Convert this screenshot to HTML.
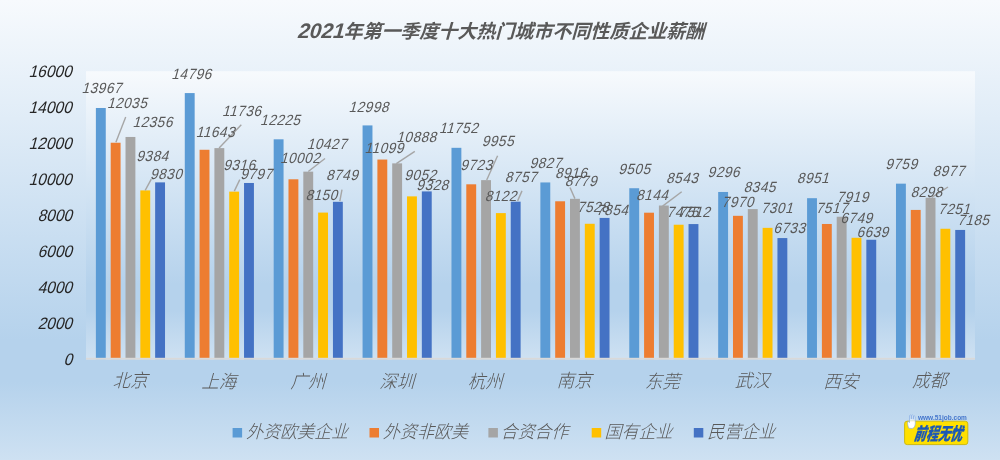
<!DOCTYPE html><html><head><meta charset="utf-8"><title>2021年第一季度十大热门城市不同性质企业薪酬</title><style>html,body{margin:0;padding:0;width:1000px;height:460px;overflow:hidden;background:#B5D2EC}svg{display:block}text{font-family:"Liberation Sans","Noto Sans CJK SC",sans-serif}</style></head><body><svg width="1000" height="460" viewBox="0 0 1000 460"><defs><linearGradient id="g" x1="0" y1="0" x2="0" y2="1"><stop offset="0" stop-color="#F7FAFD"/><stop offset="0.74" stop-color="#B5D2EC"/><stop offset="0.83" stop-color="#B5D2EC"/><stop offset="1" stop-color="#CEE1F2"/></linearGradient></defs>
<rect x="0" y="0" width="1000" height="460" fill="url(#g)"/>
<rect x="86" y="71.2" width="889" height="288.40" fill="url(#g)"/>
<rect x="95.88" y="107.99" width="9.88" height="251.16" fill="#5B9BD5"/>
<rect x="110.69" y="142.73" width="9.88" height="216.42" fill="#ED7D31"/>
<rect x="125.51" y="136.96" width="9.88" height="222.19" fill="#A5A5A5"/>
<rect x="140.33" y="190.40" width="9.88" height="168.75" fill="#FFC000"/>
<rect x="155.14" y="182.38" width="9.88" height="176.77" fill="#4472C4"/>
<rect x="184.78" y="93.08" width="9.88" height="266.07" fill="#5B9BD5"/>
<rect x="199.59" y="149.78" width="9.88" height="209.37" fill="#ED7D31"/>
<rect x="214.41" y="148.11" width="9.88" height="211.04" fill="#A5A5A5"/>
<rect x="229.23" y="191.63" width="9.88" height="167.52" fill="#FFC000"/>
<rect x="244.04" y="182.98" width="9.88" height="176.17" fill="#4472C4"/>
<rect x="273.68" y="139.31" width="9.88" height="219.84" fill="#5B9BD5"/>
<rect x="288.49" y="179.29" width="9.88" height="179.86" fill="#ED7D31"/>
<rect x="303.31" y="171.65" width="9.88" height="187.50" fill="#A5A5A5"/>
<rect x="318.13" y="212.59" width="9.88" height="146.56" fill="#FFC000"/>
<rect x="332.94" y="201.82" width="9.88" height="157.33" fill="#4472C4"/>
<rect x="362.58" y="125.41" width="9.88" height="233.74" fill="#5B9BD5"/>
<rect x="377.39" y="159.56" width="9.88" height="199.59" fill="#ED7D31"/>
<rect x="392.21" y="163.36" width="9.88" height="195.79" fill="#A5A5A5"/>
<rect x="407.03" y="196.37" width="9.88" height="162.78" fill="#FFC000"/>
<rect x="421.84" y="191.41" width="9.88" height="167.74" fill="#4472C4"/>
<rect x="451.48" y="147.82" width="9.88" height="211.33" fill="#5B9BD5"/>
<rect x="466.29" y="184.31" width="9.88" height="174.84" fill="#ED7D31"/>
<rect x="481.11" y="180.13" width="9.88" height="179.02" fill="#A5A5A5"/>
<rect x="495.93" y="213.10" width="9.88" height="146.05" fill="#FFC000"/>
<rect x="510.74" y="201.68" width="9.88" height="157.47" fill="#4472C4"/>
<rect x="540.38" y="182.44" width="9.88" height="176.71" fill="#5B9BD5"/>
<rect x="555.19" y="201.28" width="9.88" height="157.87" fill="#ED7D31"/>
<rect x="570.01" y="198.82" width="9.88" height="160.33" fill="#A5A5A5"/>
<rect x="584.83" y="223.78" width="9.88" height="135.37" fill="#FFC000"/>
<rect x="599.64" y="217.92" width="9.88" height="141.23" fill="#4472C4"/>
<rect x="629.28" y="188.23" width="9.88" height="170.92" fill="#5B9BD5"/>
<rect x="644.09" y="212.70" width="9.88" height="146.45" fill="#ED7D31"/>
<rect x="658.91" y="205.53" width="9.88" height="153.62" fill="#A5A5A5"/>
<rect x="673.73" y="224.73" width="9.88" height="134.42" fill="#FFC000"/>
<rect x="688.54" y="224.07" width="9.88" height="135.08" fill="#4472C4"/>
<rect x="718.18" y="191.98" width="9.88" height="167.17" fill="#5B9BD5"/>
<rect x="732.99" y="215.83" width="9.88" height="143.32" fill="#ED7D31"/>
<rect x="747.81" y="209.09" width="9.88" height="150.06" fill="#A5A5A5"/>
<rect x="762.63" y="227.86" width="9.88" height="131.29" fill="#FFC000"/>
<rect x="777.44" y="238.07" width="9.88" height="121.08" fill="#4472C4"/>
<rect x="807.08" y="198.19" width="9.88" height="160.96" fill="#5B9BD5"/>
<rect x="821.89" y="223.98" width="9.88" height="135.17" fill="#ED7D31"/>
<rect x="836.71" y="216.75" width="9.88" height="142.40" fill="#A5A5A5"/>
<rect x="851.53" y="237.79" width="9.88" height="121.36" fill="#FFC000"/>
<rect x="866.34" y="239.76" width="9.88" height="119.39" fill="#4472C4"/>
<rect x="895.98" y="183.66" width="9.88" height="175.49" fill="#5B9BD5"/>
<rect x="910.79" y="209.93" width="9.88" height="149.22" fill="#ED7D31"/>
<rect x="925.61" y="197.72" width="9.88" height="161.43" fill="#A5A5A5"/>
<rect x="940.43" y="228.76" width="9.88" height="130.39" fill="#FFC000"/>
<rect x="955.24" y="229.95" width="9.88" height="129.20" fill="#4472C4"/>
<rect x="86" y="357.8" width="889" height="1.8" fill="#D9D9D9"/>
<line x1="125.7" y1="117" x2="115.9" y2="142.2" stroke="#A6A6A6" stroke-width="1.4"/>
<line x1="241.3" y1="124.8" x2="219.1" y2="148" stroke="#A6A6A6" stroke-width="1.4"/>
<line x1="151.3" y1="179.1" x2="145.2" y2="190.4" stroke="#A6A6A6" stroke-width="1.4"/>
<line x1="239.8" y1="179.6" x2="234.3" y2="191.1" stroke="#A6A6A6" stroke-width="1.4"/>
<line x1="325" y1="158.5" x2="308.3" y2="171.5" stroke="#A6A6A6" stroke-width="1.4"/>
<line x1="342" y1="189.6" x2="339.8" y2="201.1" stroke="#A6A6A6" stroke-width="1.4"/>
<line x1="414.8" y1="151.3" x2="396.3" y2="163.7" stroke="#A6A6A6" stroke-width="1.4"/>
<line x1="497.6" y1="155.7" x2="486.7" y2="180" stroke="#A6A6A6" stroke-width="1.4"/>
<line x1="522" y1="190.9" x2="517.6" y2="200.9" stroke="#A6A6A6" stroke-width="1.4"/>
<line x1="570" y1="187.5" x2="574.9" y2="198.6" stroke="#A6A6A6" stroke-width="1.4"/>
<line x1="681.7" y1="191.7" x2="662.6" y2="206.1" stroke="#A6A6A6" stroke-width="1.4"/>
<line x1="948" y1="187" x2="931.7" y2="197.4" stroke="#A6A6A6" stroke-width="1.4"/>
<rect x="232.6" y="428" width="9.5" height="9.5" fill="#5B9BD5"/>
<rect x="369.5" y="428" width="9.5" height="9.5" fill="#ED7D31"/>
<rect x="488.4" y="428" width="9.5" height="9.5" fill="#A5A5A5"/>
<rect x="591.7" y="428" width="9.5" height="9.5" fill="#FFC000"/>
<rect x="693.8" y="428" width="9.5" height="9.5" fill="#4472C4"/>
<text transform="translate(81.45,93.15) skewX(-15.60) scale(1,1.09)" font-size="13.6" font-weight="400" fill="#595959" letter-spacing="0.5">13967</text>
<text transform="translate(106.90,107.50) skewX(-15.60) scale(1,1.09)" font-size="13.6" font-weight="400" fill="#595959" letter-spacing="0.5">12035</text>
<text transform="translate(132.40,126.65) skewX(-15.60) scale(1,1.09)" font-size="13.6" font-weight="400" fill="#595959" letter-spacing="0.5">12356</text>
<text transform="translate(136.30,160.80) skewX(-15.60) scale(1,1.09)" font-size="13.6" font-weight="400" fill="#595959" letter-spacing="0.5">9384</text>
<text transform="translate(150.00,179.20) skewX(-15.60) scale(1,1.09)" font-size="13.6" font-weight="400" fill="#595959" letter-spacing="0.5">9830</text>
<text transform="translate(171.30,78.80) skewX(-15.60) scale(1,1.09)" font-size="13.6" font-weight="400" fill="#595959" letter-spacing="0.5">14796</text>
<text transform="translate(195.65,136.95) skewX(-15.60) scale(1,1.09)" font-size="13.6" font-weight="400" fill="#595959" letter-spacing="0.5">11643</text>
<text transform="translate(222.00,115.70) skewX(-15.60) scale(1,1.09)" font-size="13.6" font-weight="400" fill="#595959" letter-spacing="0.5">11736</text>
<text transform="translate(223.20,170.00) skewX(-15.60) scale(1,1.09)" font-size="13.6" font-weight="400" fill="#595959" letter-spacing="0.5">9316</text>
<text transform="translate(240.25,179.20) skewX(-15.60) scale(1,1.09)" font-size="13.6" font-weight="400" fill="#595959" letter-spacing="0.5">9797</text>
<text transform="translate(260.10,125.30) skewX(-15.60) scale(1,1.09)" font-size="13.6" font-weight="400" fill="#595959" letter-spacing="0.5">12225</text>
<text transform="translate(279.90,162.80) skewX(-15.60) scale(1,1.09)" font-size="13.6" font-weight="400" fill="#595959" letter-spacing="0.5">10002</text>
<text transform="translate(306.65,149.20) skewX(-15.60) scale(1,1.09)" font-size="13.6" font-weight="400" fill="#595959" letter-spacing="0.5">10427</text>
<text transform="translate(305.40,200.10) skewX(-15.60) scale(1,1.09)" font-size="13.6" font-weight="400" fill="#595959" letter-spacing="0.5">8150</text>
<text transform="translate(326.00,179.70) skewX(-15.60) scale(1,1.09)" font-size="13.6" font-weight="400" fill="#595959" letter-spacing="0.5">8749</text>
<text transform="translate(348.45,111.55) skewX(-15.60) scale(1,1.09)" font-size="13.6" font-weight="400" fill="#595959" letter-spacing="0.5">12998</text>
<text transform="translate(364.40,153.05) skewX(-15.60) scale(1,1.09)" font-size="13.6" font-weight="400" fill="#595959" letter-spacing="0.5">11099</text>
<text transform="translate(396.30,141.85) skewX(-15.60) scale(1,1.09)" font-size="13.6" font-weight="400" fill="#595959" letter-spacing="0.5">10888</text>
<text transform="translate(404.30,179.85) skewX(-15.60) scale(1,1.09)" font-size="13.6" font-weight="400" fill="#595959" letter-spacing="0.5">9052</text>
<text transform="translate(416.35,190.10) skewX(-15.60) scale(1,1.09)" font-size="13.6" font-weight="400" fill="#595959" letter-spacing="0.5">9328</text>
<text transform="translate(438.95,132.90) skewX(-15.60) scale(1,1.09)" font-size="13.6" font-weight="400" fill="#595959" letter-spacing="0.5">11752</text>
<text transform="translate(460.20,169.90) skewX(-15.60) scale(1,1.09)" font-size="13.6" font-weight="400" fill="#595959" letter-spacing="0.5">9723</text>
<text transform="translate(481.70,146.20) skewX(-15.60) scale(1,1.09)" font-size="13.6" font-weight="400" fill="#595959" letter-spacing="0.5">9955</text>
<text transform="translate(484.65,201.20) skewX(-15.60) scale(1,1.09)" font-size="13.6" font-weight="400" fill="#595959" letter-spacing="0.5">8122</text>
<text transform="translate(504.80,181.85) skewX(-15.60) scale(1,1.09)" font-size="13.6" font-weight="400" fill="#595959" letter-spacing="0.5">8757</text>
<text transform="translate(529.50,167.70) skewX(-15.60) scale(1,1.09)" font-size="13.6" font-weight="400" fill="#595959" letter-spacing="0.5">9827</text>
<text transform="translate(555.00,178.05) skewX(-15.60) scale(1,1.09)" font-size="13.6" font-weight="400" fill="#595959" letter-spacing="0.5">8916</text>
<text transform="translate(564.70,185.70) skewX(-15.60) scale(1,1.09)" font-size="13.6" font-weight="400" fill="#595959" letter-spacing="0.5">8779</text>
<text transform="translate(576.95,211.80) skewX(-15.60) scale(1,1.09)" font-size="13.6" font-weight="400" fill="#595959" letter-spacing="0.5">7528</text>
<text transform="translate(596.05,214.50) skewX(-15.60) scale(1,1.09)" font-size="13.6" font-weight="400" fill="#595959" letter-spacing="0.5">7854</text>
<text transform="translate(618.20,173.50) skewX(-15.60) scale(1,1.09)" font-size="13.6" font-weight="400" fill="#595959" letter-spacing="0.5">9505</text>
<text transform="translate(636.05,200.10) skewX(-15.60) scale(1,1.09)" font-size="13.6" font-weight="400" fill="#595959" letter-spacing="0.5">8144</text>
<text transform="translate(666.05,182.70) skewX(-15.60) scale(1,1.09)" font-size="13.6" font-weight="400" fill="#595959" letter-spacing="0.5">8543</text>
<text transform="translate(666.60,216.85) skewX(-15.60) scale(1,1.09)" font-size="13.6" font-weight="400" fill="#595959" letter-spacing="0.5">7475</text>
<text transform="translate(678.10,216.85) skewX(-15.60) scale(1,1.09)" font-size="13.6" font-weight="400" fill="#595959" letter-spacing="0.5">7512</text>
<text transform="translate(707.60,176.85) skewX(-15.60) scale(1,1.09)" font-size="13.6" font-weight="400" fill="#595959" letter-spacing="0.5">9296</text>
<text transform="translate(721.60,206.95) skewX(-15.60) scale(1,1.09)" font-size="13.6" font-weight="400" fill="#595959" letter-spacing="0.5">7970</text>
<text transform="translate(743.55,192.10) skewX(-15.60) scale(1,1.09)" font-size="13.6" font-weight="400" fill="#595959" letter-spacing="0.5">8345</text>
<text transform="translate(760.75,213.30) skewX(-15.60) scale(1,1.09)" font-size="13.6" font-weight="400" fill="#595959" letter-spacing="0.5">7301</text>
<text transform="translate(773.25,232.80) skewX(-15.60) scale(1,1.09)" font-size="13.6" font-weight="400" fill="#595959" letter-spacing="0.5">6733</text>
<text transform="translate(796.85,183.40) skewX(-15.60) scale(1,1.09)" font-size="13.6" font-weight="400" fill="#595959" letter-spacing="0.5">8951</text>
<text transform="translate(815.70,212.70) skewX(-15.60) scale(1,1.09)" font-size="13.6" font-weight="400" fill="#595959" letter-spacing="0.5">7517</text>
<text transform="translate(836.50,202.20) skewX(-15.60) scale(1,1.09)" font-size="13.6" font-weight="400" fill="#595959" letter-spacing="0.5">7919</text>
<text transform="translate(840.30,223.05) skewX(-15.60) scale(1,1.09)" font-size="13.6" font-weight="400" fill="#595959" letter-spacing="0.5">6749</text>
<text transform="translate(856.40,236.60) skewX(-15.60) scale(1,1.09)" font-size="13.6" font-weight="400" fill="#595959" letter-spacing="0.5">6639</text>
<text transform="translate(885.20,169.10) skewX(-15.60) scale(1,1.09)" font-size="13.6" font-weight="400" fill="#595959" letter-spacing="0.5">9759</text>
<text transform="translate(910.40,197.20) skewX(-15.60) scale(1,1.09)" font-size="13.6" font-weight="400" fill="#595959" letter-spacing="0.5">8298</text>
<text transform="translate(932.50,176.20) skewX(-15.60) scale(1,1.09)" font-size="13.6" font-weight="400" fill="#595959" letter-spacing="0.5">8977</text>
<text transform="translate(938.10,214.20) skewX(-15.60) scale(1,1.09)" font-size="13.6" font-weight="400" fill="#595959" letter-spacing="0.5">7251</text>
<text transform="translate(957.15,225.10) skewX(-15.60) scale(1,1.09)" font-size="13.6" font-weight="400" fill="#595959" letter-spacing="0.5">7185</text>
<text transform="translate(63.50,364.50) skewX(-15.60) scale(1,1.07)" font-size="15.5" font-weight="400" fill="#262626">0</text>
<text transform="translate(37.50,328.54) skewX(-15.60) scale(1,1.07)" font-size="15.5" font-weight="400" fill="#262626">2000</text>
<text transform="translate(37.50,292.57) skewX(-15.60) scale(1,1.07)" font-size="15.5" font-weight="400" fill="#262626">4000</text>
<text transform="translate(37.50,256.61) skewX(-15.60) scale(1,1.07)" font-size="15.5" font-weight="400" fill="#262626">6000</text>
<text transform="translate(37.50,220.64) skewX(-15.60) scale(1,1.07)" font-size="15.5" font-weight="400" fill="#262626">8000</text>
<text transform="translate(28.50,184.68) skewX(-15.60) scale(1,1.07)" font-size="15.5" font-weight="400" fill="#262626">10000</text>
<text transform="translate(28.50,148.71) skewX(-15.60) scale(1,1.07)" font-size="15.5" font-weight="400" fill="#262626">12000</text>
<text transform="translate(28.50,112.75) skewX(-15.60) scale(1,1.07)" font-size="15.5" font-weight="400" fill="#262626">14000</text>
<text transform="translate(28.50,76.78) skewX(-15.60) scale(1,1.07)" font-size="15.5" font-weight="400" fill="#262626">16000</text>
<text transform="translate(112.45,387.30) skewX(-15.60) scale(1,1.05)" font-size="17.5" font-weight="300" fill="#595959">北京</text>
<text transform="translate(201.35,387.80) skewX(-15.60) scale(1,1.05)" font-size="17.5" font-weight="300" fill="#595959">上海</text>
<text transform="translate(290.25,387.80) skewX(-15.60) scale(1,1.05)" font-size="17.5" font-weight="300" fill="#595959">广州</text>
<text transform="translate(379.15,387.80) skewX(-15.60) scale(1,1.05)" font-size="17.5" font-weight="300" fill="#595959">深圳</text>
<text transform="translate(467.55,387.80) skewX(-15.60) scale(1,1.05)" font-size="17.5" font-weight="300" fill="#595959">杭州</text>
<text transform="translate(556.45,387.30) skewX(-15.60) scale(1,1.05)" font-size="17.5" font-weight="300" fill="#595959">南京</text>
<text transform="translate(644.85,387.80) skewX(-15.60) scale(1,1.05)" font-size="17.5" font-weight="300" fill="#595959">东莞</text>
<text transform="translate(734.75,387.30) skewX(-15.60) scale(1,1.05)" font-size="17.5" font-weight="300" fill="#595959">武汉</text>
<text transform="translate(823.15,387.80) skewX(-15.60) scale(1,1.05)" font-size="17.5" font-weight="300" fill="#595959">西安</text>
<text transform="translate(912.05,387.30) skewX(-15.60) scale(1,1.05)" font-size="17.5" font-weight="300" fill="#595959">成都</text>
<text transform="translate(246.10,438.20) skewX(-15.60) scale(1,1.05)" font-size="17" font-weight="300" fill="#595959">外资欧美企业</text>
<text transform="translate(382.70,438.20) skewX(-15.60) scale(1,1.05)" font-size="17" font-weight="300" fill="#595959">外资非欧美</text>
<text transform="translate(500.40,438.20) skewX(-15.60) scale(1,1.05)" font-size="17" font-weight="300" fill="#595959">合资合作</text>
<text transform="translate(604.50,438.20) skewX(-15.60) scale(1,1.05)" font-size="17" font-weight="300" fill="#595959">国有企业</text>
<text transform="translate(707.20,438.20) skewX(-15.60) scale(1,1.05)" font-size="17" font-weight="300" fill="#595959">民营企业</text>
<text transform="translate(296.70,37.70) skewX(-15.60)" font-size="19" font-weight="700" fill="#595959"><tspan font-size="21">2021</tspan>年第一季度十大热门城市不同性质企业薪酬</text>
<g><defs><linearGradient id="hg" gradientUnits="userSpaceOnUse" x1="0" y1="414" x2="0" y2="429"><stop offset="0" stop-color="#fff" stop-opacity="0.35"/><stop offset="0.42" stop-color="#fff" stop-opacity="0.45"/><stop offset="0.52" stop-color="#fff" stop-opacity="1"/><stop offset="1" stop-color="#fff" stop-opacity="1"/></linearGradient></defs><rect x="904.6" y="421.2" width="63.2" height="23.4" rx="2.6" fill="#FFE000" stroke="#CDBA12" stroke-width="1"/><text transform="translate(913.6,440.2) skewX(-18) scale(0.69,1)" font-size="17.5" font-weight="900" fill="#1B58B5" stroke="#1B58B5" stroke-width="0.3" style="font-family:'Noto Sans CJK SC',sans-serif">前程无忧</text><text x="918" y="419.7" font-size="6.5" font-weight="700" fill="#4677CC" style="font-family:'Liberation Sans',sans-serif">www.51job.com</text><path d="M908.8,428.2 Q907.8,426 907.6,423.6 Q907.4,421.6 908.6,421.4 L909.5,422.6 L909.5,415.6 Q910.3,414.3 911.2,415.6 L911.3,419 L911.4,415.4 Q912.3,414.3 913.2,415.5 L913.3,419.2 L913.5,416.4 Q914.4,415.5 915.2,416.6 L915.3,424 Q915,427.8 912.2,428.5 Z" fill="url(#hg)" stroke="#7EA6E2" stroke-width="0.6"/></g></svg></body></html>
